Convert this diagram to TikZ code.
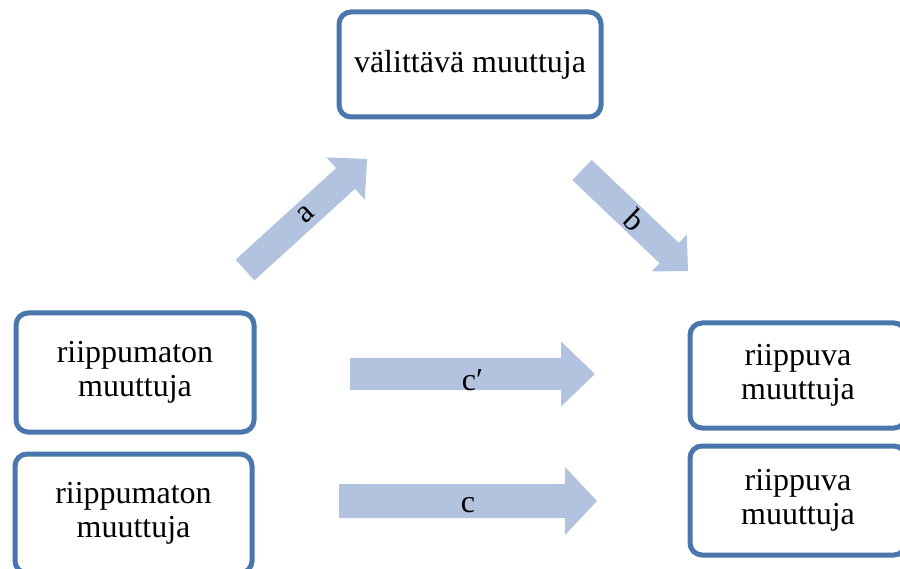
\documentclass[tikz,border=0pt]{standalone}
\usepackage{fontspec}
\setmainfont{Liberation Serif}
\definecolor{boxblue}{HTML}{4A76AE}
\definecolor{arrowfill}{HTML}{B1C3DF}
\tikzset{
  vbox/.style={draw=boxblue, line width=5pt, rounded corners=12pt, fill=white,
    align=center, inner sep=0pt, font=\fontsize{32}{34}\selectfont},
  arrowlabel/.style={font=\fontsize{32}{34}\selectfont, inner sep=0pt},
  arrowbody/.style={fill=arrowfill, draw=none},
}
% name(+options), x, y, angle, length, shaft width, head width, head length, label
\newcommand\blockarrow[9]{%
  \begin{scope}[shift={(#2,#3)}, rotate=#4]
    \path[arrowbody] (0,-#6/2) -- (#5-#8,-#6/2) -- (#5-#8,-#7/2) -- (#5,0)
      -- (#5-#8,#7/2) -- (#5-#8,#6/2) -- (0,#6/2) -- cycle;
    \node[arrowlabel, rotate=#4, name=#1] at (#5/2,0) {#9};
  \end{scope}}
\begin{document}
\begin{tikzpicture}[x=1pt,y=-1pt]
  \useasboundingbox (0,0) rectangle (900,569);
  \clip (0,0) rectangle (900,569);
  % boxes
  \node[vbox, minimum width=262pt, minimum height=105pt] (med) at (470,64.5) {välittävä muuttuja};
  \node[vbox, minimum width=238pt, minimum height=119pt] (x1) at (135,372.5) {riippumaton\\muuttuja};
  \node[vbox, minimum width=237pt, minimum height=119pt] (x2) at (133.5,513.5) {riippumaton\\muuttuja};
  \node[vbox, minimum width=216pt, minimum height=105pt] (y1) at (798,375.5) {riippuva\\muuttuja};
  \node[vbox, minimum width=216pt, minimum height=109pt] (y2) at (798,500.5) {riippuva\\muuttuja};
  % block arrows
  \blockarrow{la}{245}{270}{42.3}{165}{28}{57}{29}{a}
  \blockarrow{lb}{582}{170}{-43.6}{146.4}{28}{51}{26}{b}
  \blockarrow{lcp, yshift=-6pt}{350}{374}{0}{245}{32}{65}{34}{c′}
  \blockarrow{lc, yshift=-4pt}{339}{501}{0}{258}{34}{68}{32}{c}
\end{tikzpicture}
\end{document}
